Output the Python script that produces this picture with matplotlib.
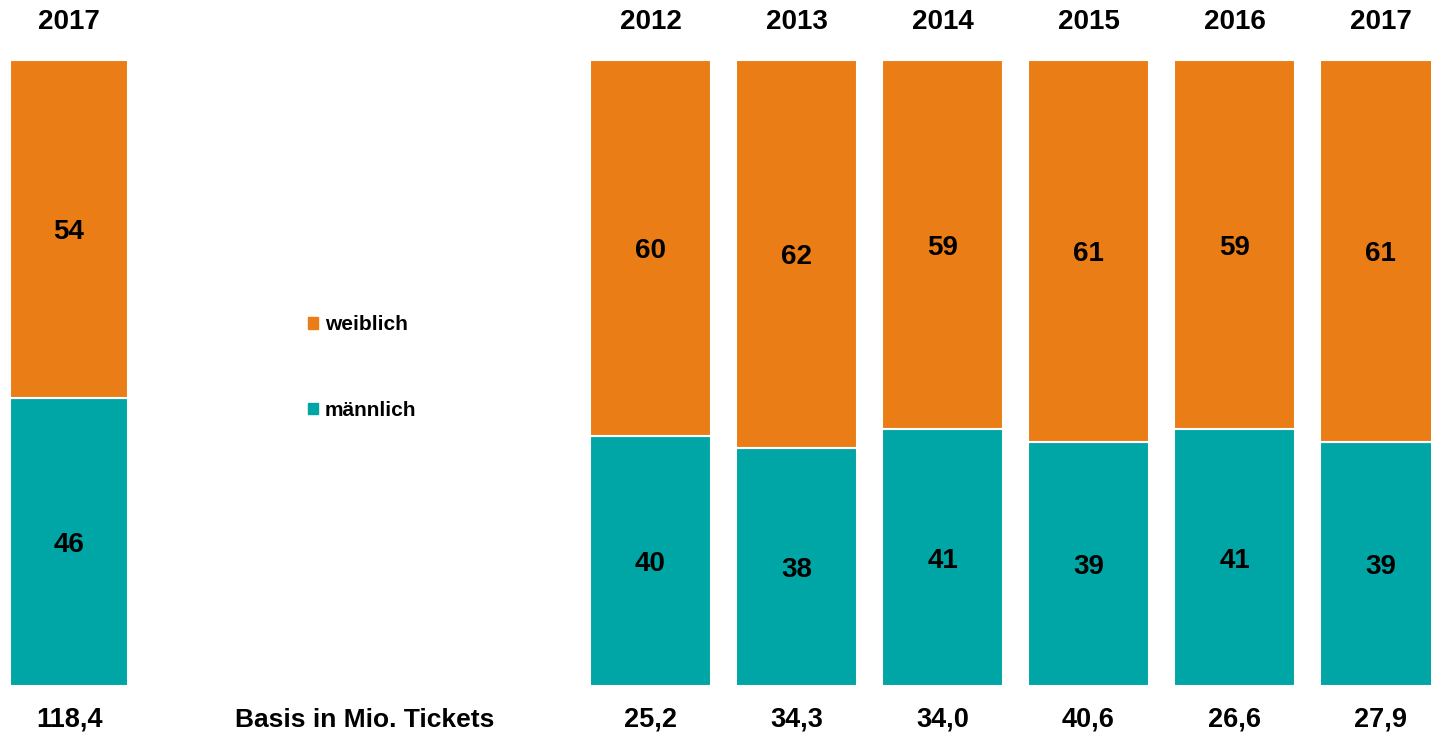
import matplotlib.pyplot as plt
from matplotlib.patches import Patch

plt.rcParams['font.family'] = ['Liberation Sans', 'DejaVu Sans']
plt.rcParams['font.weight'] = 'bold'

ORANGE = '#EB7D16'
TEAL = '#00A6A6'

# gesamt 2017
total_year = ['2017']
total_male = [46]
total_female = [54]
total_base = ['118,4']

# Zeitreihe
years = ['2012', '2013', '2014', '2015', '2016', '2017']
male = [40, 38, 41, 39, 41, 39]
female = [60, 62, 59, 61, 59, 61]
base = ['25,2', '34,3', '34,0', '40,6', '26,6', '27,9']

W, H = 1431, 735
fig = plt.figure(figsize=(W / 100, H / 100), dpi=100)

y0 = (H - 686) / H
h = 626 / H
ax_l = fig.add_axes([0, y0, 138 / W, h])
ax_r = fig.add_axes([577.5 / W, y0, (W - 577.5) / W, h])


def draw(ax, labels, m, f, b, width, xmax):
    x = list(range(len(labels)))
    ax.bar(x, m, width=width, color=TEAL, edgecolor='white', linewidth=1.5)
    ax.bar(x, f, bottom=m, width=width, color=ORANGE, edgecolor='white', linewidth=1.5)
    for i in x:
        ax.text(i, m[i] / 2, str(m[i]), ha='center', va='center_baseline', fontsize=20)
        ax.text(i, m[i] + f[i] / 2, str(f[i]), ha='center', va='center_baseline', fontsize=20)
        ax.text(i, 106.1, labels[i], ha='center', va='center', fontsize=20, clip_on=False)
        ax.text(i, -5.4, b[i], ha='center', va='center', fontsize=19.5, clip_on=False)
    ax.set_xlim(-0.5, xmax)
    ax.set_ylim(0, 100)
    ax.axis('off')


draw(ax_l, total_year, total_male, total_female, total_base, 118 / 138, 0.5)
draw(ax_r, years, male, female, base, 121 / 146, (W - 577.5) / 146 - 0.5)

fig.text(365 / W, 1 - 720 / H, 'Basis in Mio. Tickets', ha='center', va='center', fontsize=19)

handles = [Patch(color=ORANGE, label='weiblich'), Patch(color=TEAL, label='männlich')]
fig.legend(handles=handles, loc='upper left', bbox_to_anchor=(298 / W, 1 - 305 / H),
           frameon=False, fontsize=15, handlelength=0.45, handleheight=0.45,
           handletextpad=0.35, labelspacing=3.2, borderpad=0)

fig.savefig('out.png', dpi=100)
